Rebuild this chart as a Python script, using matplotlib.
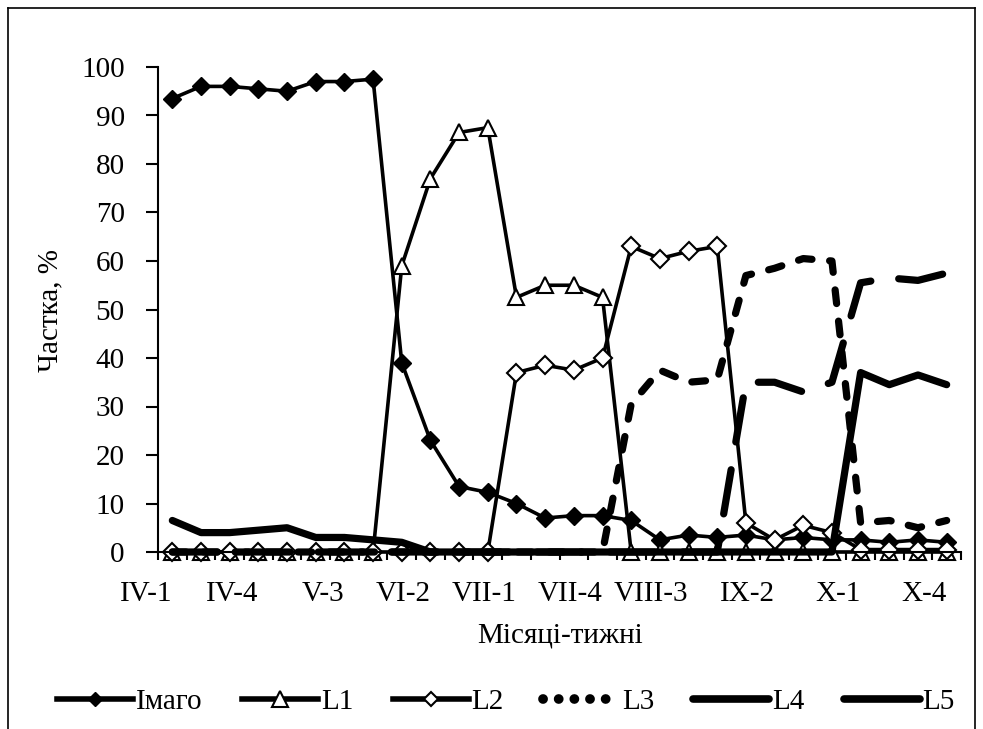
import numpy as np
import matplotlib
matplotlib.use('Agg')
import matplotlib.pyplot as plt
from matplotlib.lines import Line2D

plt.rcParams['font.family'] = ['Liberation Serif', 'DejaVu Serif']
plt.rcParams['font.size'] = 21

# тижні: IV-1 ... X-4
months = ['IV', 'V', 'VI', 'VII', 'VIII', 'IX', 'X']
weeks = [m + '-' + str(w) for m in months for w in range(1, 5)]

imago = [93.5, 96, 96, 95.5, 95, 97, 97, 97.5, 39, 23, 13.5, 12.3, 10, 7, 7.5, 7.5,
         6.5, 2.5, 3.5, 3, 3.5, 2.5, 3, 2.5, 2.5, 2, 2.5, 2]
l1 = [0, 0, 0, 0, 0, 0, 0, 0, 59, 77, 86.5, 87.5, 52.5, 55, 55, 52.5,
      0, 0, 0, 0, 0, 0, 0, 0, 0, 0, 0, 0]
l2 = [0, 0, 0, 0, 0, 0, 0, 0, 0, 0, 0, 0, 37, 38.5, 37.5, 40,
      63, 60.5, 62, 63, 6, 2.5, 5.5, 4, 0.5, 0.5, 0.5, 0.5]
l3 = [0, 0, 0, 0, 0, 0, 0, 0, 0, 0, 0, 0, 0, 0, 0, 0,
      30.5, 37.5, 35, 35.5, 57, 58.5, 60.5, 60, 6, 6.5, 5, 6.5]
l4 = [0, 0, 0, 0, 0, 0, 0, 0, 0, 0, 0, 0, 0, 0, 0, 0,
      0, 0, 0, 0, 35, 35, 33, 35, 55.5, 56.5, 56, 57.5]
l5 = [6.5, 4, 4, 4.5, 5, 3, 3, 2.5, 2, 0, 0, 0, 0, 0, 0, 0,
      0, 0, 0, 0, 0, 0, 0, 0, 37, 34.5, 36.5, 34.5]

x = np.arange(len(weeks))

fig = plt.figure(figsize=(9.83, 7.29), dpi=100)
ax = fig.add_axes([158/983, 1 - 552/729, (961 - 158)/983, (552 - 67)/729])

ax.plot(x, imago, color='black', lw=2.6, marker='D', ms=9, mfc='black', mec='black',
        clip_on=False)
ax.plot(x, l1, color='black', lw=2.6, marker='^', ms=12, mfc='white', mec='black', mew=1.5,
        clip_on=False)
ax.plot(x, l2, color='black', lw=2.6, marker='D', ms=9, mfc='white', mec='black', mew=1.5,
        clip_on=False)
ax.plot(x, l3, color='black', lw=5.2, ls=(0, (1.9, 2.45)), dash_capstyle='round',
        clip_on=False)
ax.plot(x, l4, color='black', lw=5.2, ls=(0, (6.2, 3.9)), dash_capstyle='round',
        clip_on=False)
ax.plot(x, l5, color='black', lw=5.2, solid_capstyle='round', clip_on=False)

ax.set_xlim(-0.5, len(weeks) - 0.5)
ax.set_ylim(0, 100)
ax.set_yticks(range(0, 101, 10))
ax.set_xticks(x[::3])
ax.set_xticklabels(weeks[::3], ha='right')
ax.set_xticks(np.arange(-0.5, len(weeks), 1), minor=True)
ax.tick_params(axis='x', which='major', length=0, pad=21)
ax.tick_params(axis='x', which='minor', length=6, width=1.5, direction='out')
ax.tick_params(axis='y', length=9, width=1.5, pad=15)
for s in ['top', 'right']:
    ax.spines[s].set_visible(False)
for s in ['left', 'bottom']:
    ax.spines[s].set_linewidth(1.5)

fig.text(50/983, 1 - 310/729, 'Частка, %', rotation=90, ha='center', va='center')
fig.text(560/983, 1 - 635/729, 'Місяці-тижні', ha='center', va='center')

# зразки легенди як у Excel
handles = [
    Line2D([], [], color='black', lw=4, marker='D', ms=7, mfc='black', mec='black'),
    Line2D([], [], color='black', lw=4, marker='^', ms=11, mfc='white', mec='black', mew=1.5),
    Line2D([], [], color='black', lw=4, marker='D', ms=7, mfc='white', mec='black', mew=1.5),
    Line2D([], [], color='black', lw=7, ls=(0, (0.01, 1.6)), dash_capstyle='round'),
    Line2D([], [], color='black', lw=5.5, solid_capstyle='round'),
    Line2D([], [], color='black', lw=5.5, solid_capstyle='round'),
]
fig.legend(handles, ['Імаго', 'L1', 'L2', 'L3', 'L4', 'L5'], loc='center',
           bbox_to_anchor=(0.515, 1 - 702/729), ncol=6, frameon=False,
           handlelength=2.6, handletextpad=0.1, columnspacing=1.35, borderaxespad=0)

# рамка області діаграми
for xs, ys in [((8, 8), (0, 721)), ((8, 975), (721, 721)), ((975, 975), (721, 0))]:
    fig.add_artist(Line2D([v/983 for v in xs], [v/729 for v in ys], color='black', lw=1.2))

fig.savefig('out.png', dpi=100)
